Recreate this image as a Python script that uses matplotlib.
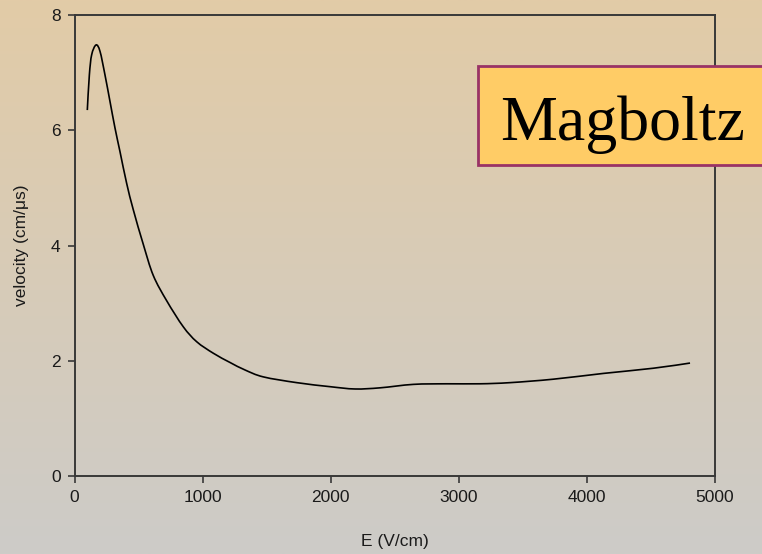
import numpy as np
import matplotlib
matplotlib.use("Agg")
import matplotlib.pyplot as plt
from matplotlib.patches import Rectangle, PathPatch
from matplotlib.path import Path
from matplotlib.colors import LinearSegmentedColormap

# Electron drift velocity vs. electric field (Magboltz calculation)
field = [100, 116, 134, 168, 199, 238, 277, 316, 355, 407, 459, 537, 615,
         720, 849, 954, 1084, 1214, 1331, 1474, 1735, 1995, 2190, 2385,
         2645, 2905, 3165, 3400, 3738, 4128, 4518, 4805]
velocity = [6.35, 6.96, 7.31, 7.48, 7.37, 6.96, 6.50, 6.04, 5.63, 5.08,
            4.62, 4.02, 3.48, 3.04, 2.59, 2.33, 2.13, 1.97, 1.84, 1.72,
            1.62, 1.55, 1.51, 1.53, 1.59, 1.60, 1.60, 1.62, 1.68, 1.78,
            1.87, 1.96]

x_ticks = [0, 1000, 2000, 3000, 4000, 5000]
y_ticks = [0, 2, 4, 6, 8]


def smooth_path(xs, ys):
    """Cubic Bezier path through the points (Catmull-Rom tangents)."""
    p = np.column_stack([xs, ys]).astype(float)
    n = len(p)
    verts = [p[0]]
    codes = [Path.MOVETO]
    for i in range(n - 1):
        p0 = p[max(i - 1, 0)]
        p1, p2 = p[i], p[i + 1]
        p3 = p[min(i + 2, n - 1)]
        c1 = p1 + (p2 - p0) / 6.0
        c2 = p2 - (p3 - p1) / 6.0
        verts += [c1, c2, p2]
        codes += [Path.CURVE4] * 3
    return Path(verts, codes)


W, H = 762, 554
fig = plt.figure(figsize=(W / 100, H / 100), dpi=100)

# vertical background gradient: warm tan at the top, grey at the bottom
bg = fig.add_axes([0, 0, 1, 1], zorder=-10)
grad = np.linspace(0, 1, 256).reshape(-1, 1)
cmap = LinearSegmentedColormap.from_list("bg", ["#E2CBA7", "#CDCCC8"])
bg.imshow(grad, aspect="auto", cmap=cmap, extent=[0, 1, 0, 1], origin="upper")
bg.set_axis_off()

ax = fig.add_axes([74.5 / W, 1 - 476 / H, (715 - 74.5) / W, (476 - 15) / H])
ax.patch.set_alpha(0)
ax.add_patch(PathPatch(smooth_path(field, velocity), facecolor="none",
                       edgecolor="black", lw=1.2, transform=ax.transData))

ax.set_xlim(0, 5000)
ax.set_ylim(0, 8)
ax.set_xticks(x_ticks)
ax.set_yticks(y_ticks)

tick_font = dict(family="Liberation Sans", size=12.5, color="#1a1a1a")
ax.set_xticklabels([str(t) for t in x_ticks], **tick_font)
ax.set_yticklabels([str(t) for t in y_ticks], **tick_font)
ax.tick_params(direction="out", length=5, width=1.2, color="#383838", pad=5)
for s in ax.spines.values():
    s.set_color("#383838")
    s.set_linewidth(1.4)

ax.set_xlabel("E (V/cm)", family="Liberation Sans", size=12.5,
              color="#1a1a1a", labelpad=21)
ax.set_ylabel("velocity (cm/\u03bcs)", family="Liberation Sans", size=12.5,
              color="#1a1a1a", labelpad=16)

# label box
fig.patches.append(Rectangle((478 / W, 1 - 165 / H), (800 - 478) / W,
                             (165 - 66) / H, transform=fig.transFigure,
                             facecolor="#FFCC66", edgecolor="#993366",
                             linewidth=2, zorder=5))
fig.text(500 / W, 1 - 140 / H, "Magboltz", family="Liberation Serif",
         size=46, color="black", ha="left", va="baseline", zorder=6)

fig.savefig("out.png", dpi=100)
